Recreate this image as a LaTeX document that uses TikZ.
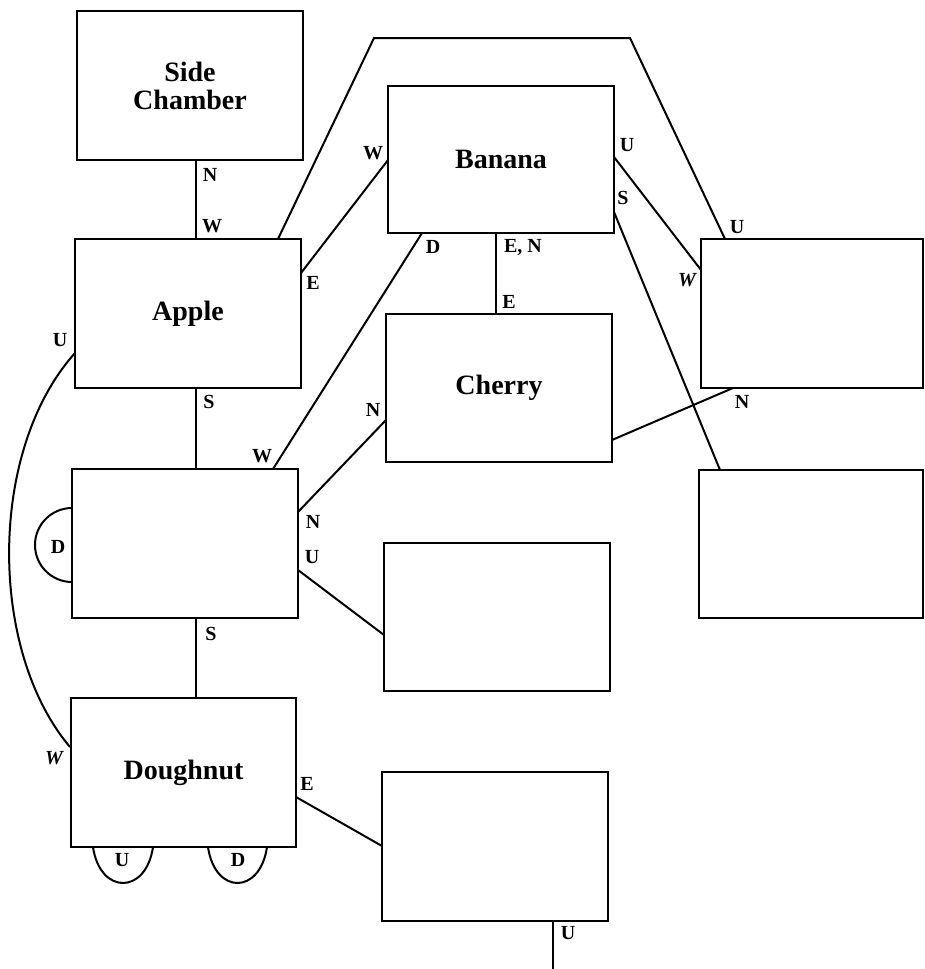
\documentclass[tikz,border=0pt]{standalone}
\usepackage{fontspec}
\setmainfont{Liberation Serif}
\usetikzlibrary{calc}
\begin{document}
\begin{tikzpicture}[x=1pt,y=-1pt,
  room/.style={draw, line width=2.6pt, inner sep=0pt, outer sep=0pt, align=center,
    font=\fontsize{28}{28}\selectfont\bfseries},
  link/.style={line width=2pt},
  lab/.style={font=\fontsize{20}{20}\selectfont\bfseries, inner sep=0pt},
  labi/.style={font=\fontsize{20}{20}\selectfont\bfseries\itshape, inner sep=0pt}]
\useasboundingbox (0,0) rectangle (924,969);
% rooms
\node[room, minimum width=226pt, minimum height=149pt] (sc) at (190,85.5) {Side\\Chamber};
\node[room, minimum width=226pt, minimum height=149pt] (apple) at (188,313.5) {Apple};
\node[room, minimum width=226pt, minimum height=147pt] (banana) at (501,159.5) {Banana};
\node[room, minimum width=226pt, minimum height=148pt] (cherry) at (499,388) {Cherry};
\node[room, minimum width=222pt, minimum height=149pt] (rt) at (812,313.5) {};
\node[room, minimum width=226pt, minimum height=149pt] (ml) at (185,543.5) {};
\node[room, minimum width=224pt, minimum height=148pt] (rb) at (811,544) {};
\node[room, minimum width=226pt, minimum height=148pt] (mid) at (497,617) {};
\node[room, minimum width=225pt, minimum height=149pt] (dn) at (183.5,772.5) {Doughnut};
\node[room, minimum width=226pt, minimum height=149pt] (bot) at (495,846.5) {};
% helper coordinates
\coordinate (k1) at (374,38);
\coordinate (k2) at (630,38);
\coordinate (kend) at (553,972);
% connectors
\draw[link] ($(sc.south west)+(119,0)$) -- ($(apple.north west)+(121,0)$);
\draw[link] ($(apple.north west)+(203,0)$) -- (k1) -- (k2) -- ($(rt.north west)+(24,0)$);
\draw[link] ($(apple.north east)+(0,34)$) -- ($(banana.north west)+(0,74)$);
\draw[link] ($(banana.south west)+(34,0)$) -- ($(ml.north west)+(201,0)$);
\draw[link] ($(cherry.north west)+(0,106)$) -- ($(ml.north east)+(0,43)$);
\draw[link] ($(banana.south west)+(108,0)$) -- ($(cherry.north west)+(110,0)$);
\draw[link] ($(banana.north east)+(0,71)$) -- ($(rt.north west)+(0,31)$);
\draw[link] ($(banana.north east)+(0,126)$) -- ($(rb.north west)+(21,0)$);
\draw[link] ($(cherry.north east)+(0,126)$) -- ($(rt.south west)+(32,0)$);
\draw[link] ($(apple.south west)+(121,0)$) -- ($(ml.north west)+(124,0)$);
\draw[link] ($(ml.north east)+(0,101)$) -- ($(mid.north west)+(0,92)$);
\draw[link] ($(ml.south west)+(124,0)$) -- ($(dn.north west)+(125,0)$);
\draw[link] ($(dn.north east)+(0,99)$) -- ($(bot.north west)+(0,74)$);
\draw[link] ($(bot.south west)+(171,0)$) -- (kend);
% curves
\draw[link] ($(apple.north west)+(0,114)$) .. controls (-12,450) and (-12,650) .. ($(dn.north west)+(-1,49)$);
\draw[link] ($(ml.north west)+(0,39)$) arc[start angle=270, end angle=90, radius=37];
\draw[link] ($(dn.south west)+(22,0)$) .. controls ($(dn.south west)+(29,48)$) and ($(dn.south west)+(75,48)$) .. ($(dn.south west)+(82,0)$);
\draw[link] ($(dn.south west)+(137,0)$) .. controls ($(dn.south west)+(144,48)$) and ($(dn.south west)+(189,48)$) .. ($(dn.south west)+(196,0)$);
% labels
\node[lab] (l1) at (210,175) {N};
\node[lab] (l2) at (212,226) {W};
\node[lab] (l3) at (313,283) {E};
\node[lab] (l4) at (60,340) {U};
\node[lab] (l5) at (209,402) {S};
\node[lab] (l6) at (373,153) {W};
\node[lab] (l7) at (433,247) {D};
\node[lab] (l8) at (262,456) {W};
\node[lab] (l9) at (373,410) {N};
\node[lab] (l10) at (523,247) {E, N};
\node[lab] (l11) at (509,302) {E};
\node[lab] (l12) at (627,145) {U};
\node[lab] (l13) at (623,198) {S};
\node[labi] (l14) at (687,280) {W};
\node[lab] (l15) at (737,227) {U};
\node[lab] (l16) at (742,402) {N};
\node[lab] (l17) at (58,547) {D};
\node[lab] (l18) at (313,522) {N};
\node[lab] (l19) at (312,557) {U};
\node[lab] (l20) at (211,634) {S};
\node[labi] (l21) at (54,758) {W};
\node[lab] (l22) at (307,784) {E};
\node[lab] (l23) at (122,860) {U};
\node[lab] (l24) at (238,860) {D};
\node[lab] (l25) at (568,933) {U};
\end{tikzpicture}
\end{document}
